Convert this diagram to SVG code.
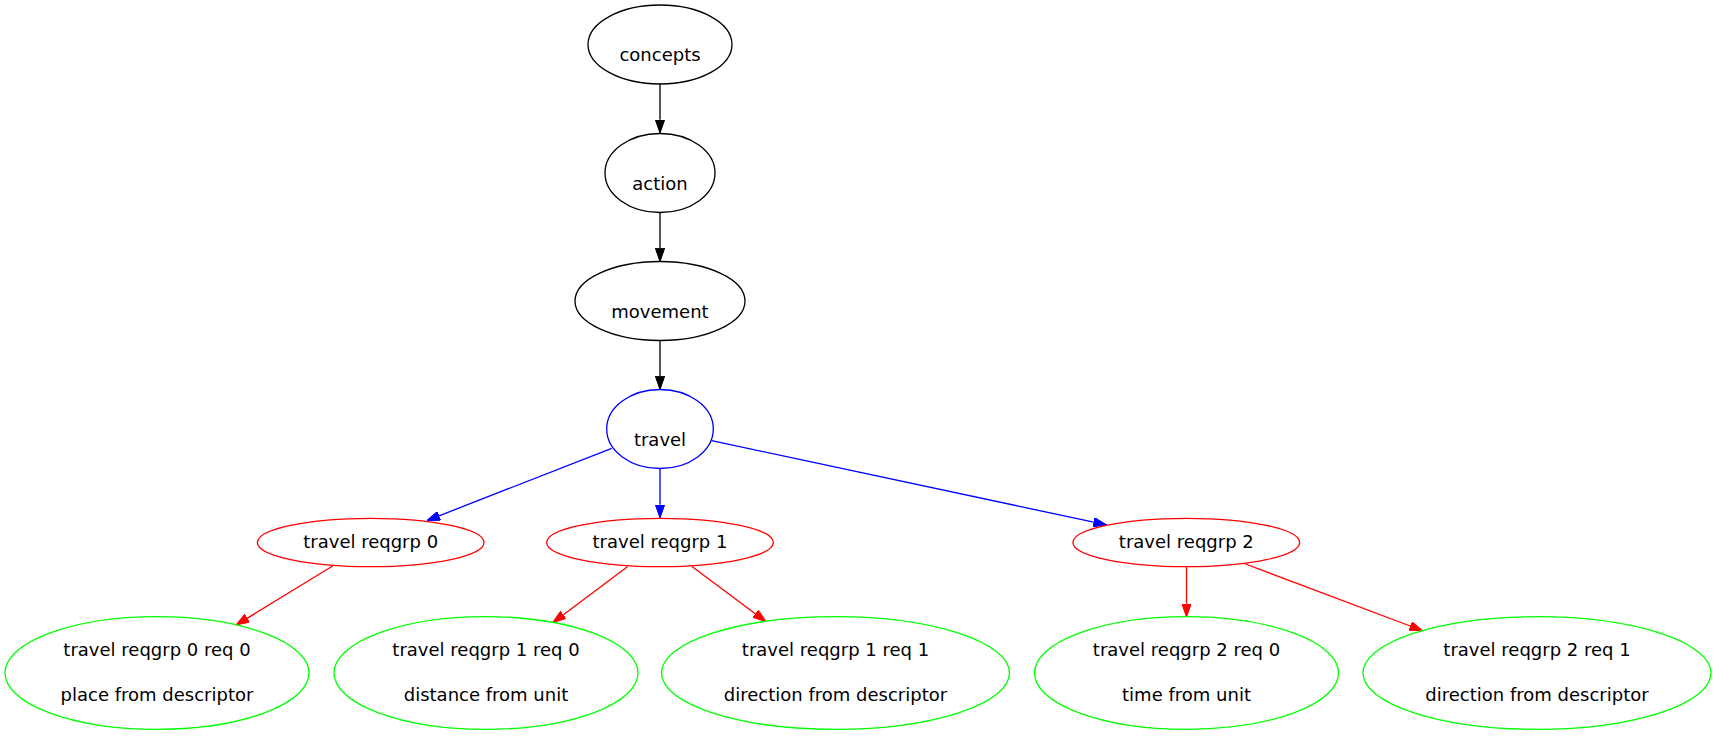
<svg xmlns="http://www.w3.org/2000/svg" width="1717" height="736" viewBox="0 0 1717 736">
<style>
text{font-family:"DejaVu Sans",Verdana,sans-serif;font-size:18px;fill:#000;text-anchor:middle}
ellipse{fill:none;stroke-width:1.33}
.k{stroke:#000}.b{stroke:#0000ff}.r{stroke:#ff0000}.g{stroke:#00ff00}
line{stroke-width:1.33}
</style>
<defs>
<marker id="ak" markerUnits="userSpaceOnUse" viewBox="0 0 13.33 9.33" refX="0" refY="4.67" markerWidth="13.33" markerHeight="9.33" orient="auto"><path d="M0,0L13.33,4.67L0,9.33z" fill="#000" stroke="#000" stroke-width="1"/></marker>
<marker id="ab" markerUnits="userSpaceOnUse" viewBox="0 0 13.33 9.33" refX="0" refY="4.67" markerWidth="13.33" markerHeight="9.33" orient="auto"><path d="M0,0L13.33,4.67L0,9.33z" fill="#0000ff" stroke="#0000ff" stroke-width="1"/></marker>
<marker id="ar" markerUnits="userSpaceOnUse" viewBox="0 0 13.33 9.33" refX="0" refY="4.67" markerWidth="13.33" markerHeight="9.33" orient="auto"><path d="M0,0L13.33,4.67L0,9.33z" fill="#ff0000" stroke="#ff0000" stroke-width="1"/></marker>
</defs>
<rect width="1717" height="736" fill="#fff"/>
<g id="connectors">
<line class="k" x1="660" y1="84" x2="660" y2="119.7" stroke="#000" marker-end="url(#ak)"/>
<line class="k" x1="660" y1="212.5" x2="660" y2="248.2" stroke="#000" marker-end="url(#ak)"/>
<line class="k" x1="660" y1="340.5" x2="660" y2="376.2" stroke="#000" marker-end="url(#ak)"/>
<line x1="660" y1="468.5" x2="660" y2="504.7" stroke="#0000ff" marker-end="url(#ab)"/>
<line x1="611.7" y1="448.3" x2="439.1" y2="515.8" stroke="#0000ff" marker-end="url(#ab)"/>
<line x1="711.7" y1="440.7" x2="1093.7" y2="522.2" stroke="#0000ff" marker-end="url(#ab)"/>
<line x1="332.7" y1="566" x2="247.4" y2="618.1" stroke="#ff0000" marker-end="url(#ar)"/>
<line x1="627.7" y1="566.5" x2="563.4" y2="614.7" stroke="#ff0000" marker-end="url(#ar)"/>
<line x1="692" y1="566.5" x2="755.3" y2="613.7" stroke="#ff0000" marker-end="url(#ar)"/>
<line x1="1186.5" y1="566.5" x2="1186.5" y2="603.7" stroke="#ff0000" marker-end="url(#ar)"/>
<line x1="1244.3" y1="563.5" x2="1410.2" y2="626" stroke="#ff0000" marker-end="url(#ar)"/>
</g>
<g id="concepts"><ellipse class="k" cx="660" cy="44.5" rx="72" ry="39.5"/><text x="660" y="61">concepts</text></g>
<g id="action"><ellipse class="k" cx="660" cy="173" rx="55" ry="39.5"/><text x="660" y="189.5">action</text></g>
<g id="movement"><ellipse class="k" cx="660" cy="301" rx="85" ry="39.5"/><text x="660" y="317.5">movement</text></g>
<g id="travel"><ellipse class="b" cx="660" cy="429" rx="53.3" ry="39.5"/><text x="660" y="445.5">travel</text></g>
<g id="reqgrp0"><ellipse class="r" cx="370.7" cy="542.5" rx="113.3" ry="24.2"/><text x="370.7" y="548">travel reqgrp 0</text></g>
<g id="reqgrp1"><ellipse class="r" cx="660" cy="542.5" rx="113.3" ry="24.2"/><text x="660" y="548">travel reqgrp 1</text></g>
<g id="reqgrp2"><ellipse class="r" cx="1186.3" cy="542.5" rx="113.3" ry="24.2"/><text x="1186.3" y="548">travel reqgrp 2</text></g>
<g id="reqgrp0req0"><ellipse class="g" cx="157" cy="673" rx="152" ry="56.3"/><text x="157" y="655.5">travel reqgrp 0 req 0</text><text x="157" y="700.5">place from descriptor</text></g>
<g id="reqgrp1req0"><ellipse class="g" cx="486" cy="673" rx="152" ry="56.3"/><text x="486" y="655.5">travel reqgrp 1 req 0</text><text x="486" y="700.5">distance from unit</text></g>
<g id="reqgrp1req1"><ellipse class="g" cx="835.5" cy="673" rx="174" ry="56.3"/><text x="835.5" y="655.5">travel reqgrp 1 req 1</text><text x="835.5" y="700.5">direction from descriptor</text></g>
<g id="reqgrp2req0"><ellipse class="g" cx="1186.5" cy="673" rx="152" ry="56.3"/><text x="1186.5" y="655.5">travel reqgrp 2 req 0</text><text x="1186.5" y="700.5">time from unit</text></g>
<g id="reqgrp2req1"><ellipse class="g" cx="1537" cy="673" rx="174" ry="56.3"/><text x="1537" y="655.5">travel reqgrp 2 req 1</text><text x="1537" y="700.5">direction from descriptor</text></g>
</svg>
